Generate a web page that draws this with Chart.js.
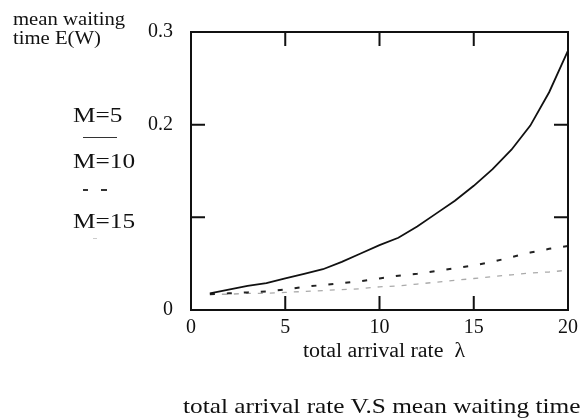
<!DOCTYPE html>
<html lang="en">
<head>
  <meta charset="UTF-8">
  <title>total arrival rate V.S mean waiting time</title>
  <script src="https://cdn.jsdelivr.net/npm/chart.js"></script>
  <style>
    html, body { margin: 0; padding: 0; background: #fff; }
    .wrap { position: relative; width: 584px; height: 418px; font-family: "Liberation Serif", "Times New Roman", serif; color: #111; }
    .wrap canvas { position: absolute; left: 0; top: 0; }
    .txt { position: absolute; white-space: nowrap; transform-origin: 0 0; transform: scaleX(1.15); line-height: 1; }
    .mark { position: absolute; }
  </style>
</head>
<body>
  <div class="wrap">
    <canvas id="grafico" width="584" height="418"></canvas>

    <div class="txt" style="left:13px; top:10px; font-size:18px; line-height:19px;">mean waiting<br>time E(W)</div>

    <div class="txt" style="left:73px; top:104px; font-size:22px;">M=5</div>
    <div class="mark" style="left:83px; top:137px; width:34px; height:0; border-top:1.5px solid #333;"></div>
    <div class="txt" style="left:73px; top:150px; font-size:22px;">M=10</div>
    <div class="mark" style="left:83px; top:189px; width:5px; height:2px; background:#333;"></div>
    <div class="mark" style="left:101px; top:189px; width:6px; height:2px; background:#333;"></div>
    <div class="txt" style="left:73px; top:210px; font-size:22px;">M=15</div>
    <div class="mark" style="left:93px; top:238px; width:4px; height:1px; background:#ccc;"></div>

    <div class="txt" style="left:303px; top:340px; font-size:20px; transform:scaleX(1.1);">total arrival rate&nbsp;&nbsp;λ</div>
    <div class="txt" style="left:183px; top:395px; font-size:22px;">total arrival rate V.S mean waiting time</div>
  </div>

  <script>
    // lambda (total arrival rate)
    const lambdas = [1, 2, 3, 4, 5, 6, 7, 8, 9, 10, 11, 12, 13, 14, 15, 16, 17, 18, 19, 20];

    // mean waiting time E(W)
    const waitM5 = [0.018, 0.022, 0.026, 0.029, 0.034, 0.039, 0.044, 0.052, 0.061, 0.070,
                    0.078, 0.090, 0.104, 0.118, 0.134, 0.152, 0.173, 0.199, 0.235, 0.280];
    const waitM10 = [0.017, 0.018, 0.019, 0.020, 0.022, 0.025, 0.027, 0.029, 0.031, 0.034,
                     0.037, 0.039, 0.042, 0.045, 0.048, 0.052, 0.057, 0.062, 0.066, 0.069];
    const waitM15 = [0.017, 0.017, 0.018, 0.018, 0.019, 0.020, 0.021, 0.022, 0.023, 0.025,
                     0.026, 0.028, 0.030, 0.032, 0.034, 0.036, 0.038, 0.040, 0.041, 0.043];

    const xTicks = [0, 5, 10, 15, 20];
    const yTicks = [0, 0.1, 0.2, 0.3];
    const yTickLabels = ['0', '', '0.2', '0.3'];

    const pontos = arr => lambdas.map((l, i) => ({ x: l, y: arr[i] }));

    // frame + inward tick marks on all four sides
    const moldura = {
      id: 'moldura',
      afterDatasetsDraw(chart) {
        const { ctx, chartArea: a, scales: { x, y } } = chart;
        ctx.save();
        ctx.strokeStyle = '#111';
        ctx.lineWidth = 2;
        ctx.strokeRect(a.left, a.top, a.right - a.left, a.bottom - a.top);
        ctx.beginPath();
        xTicks.slice(1, -1).forEach(v => {
          const px = x.getPixelForValue(v);
          ctx.moveTo(px, a.bottom); ctx.lineTo(px, a.bottom - 14);
          ctx.moveTo(px, a.top); ctx.lineTo(px, a.top + 14);
        });
        yTicks.slice(1, -1).forEach(v => {
          const py = y.getPixelForValue(v);
          ctx.moveTo(a.left, py); ctx.lineTo(a.left + 14, py);
          ctx.moveTo(a.right, py); ctx.lineTo(a.right - 14, py);
        });
        ctx.stroke();
        ctx.restore();
      }
    };

    const fonte = { family: "'Liberation Serif', 'Times New Roman', serif", size: 20 };

    new Chart(document.getElementById('grafico'), {
      type: 'line',
      data: {
        datasets: [
          { label: 'M=5', data: pontos(waitM5), borderColor: '#111', borderWidth: 1.8 },
          { label: 'M=10', data: pontos(waitM10), borderColor: '#222', borderWidth: 2, borderDash: [5, 12] },
          { label: 'M=15', data: pontos(waitM15), borderColor: '#aaa', borderWidth: 1.3, borderDash: [5, 7] }
        ]
      },
      options: {
        responsive: false,
        animation: false,
        elements: { point: { radius: 0 }, line: { tension: 0, fill: false } },
        layout: { padding: { top: 32, right: 12, left: 0, bottom: 0 } },
        plugins: { legend: { display: false }, tooltip: { enabled: false } },
        scales: {
          x: {
            type: 'linear', min: 0, max: 20,
            grid: { display: false, drawTicks: false },
            border: { display: false },
            afterFit: s => { s.height = 108; },
            afterBuildTicks: s => { s.ticks = xTicks.map(v => ({ value: v })); },
            ticks: { padding: 6, color: '#111', font: fonte, maxRotation: 0 }
          },
          y: {
            min: 0, max: 0.3,
            grid: { display: false, drawTicks: false },
            border: { display: false },
            afterFit: s => { s.width = 191; },
            afterBuildTicks: s => { s.ticks = yTicks.map(v => ({ value: v })); },
            ticks: {
              padding: 18, color: '#111', font: fonte,
              callback: (v, i) => yTickLabels[i]
            }
          }
        }
      },
      plugins: [moldura]
    });
  </script>
</body>
</html>
